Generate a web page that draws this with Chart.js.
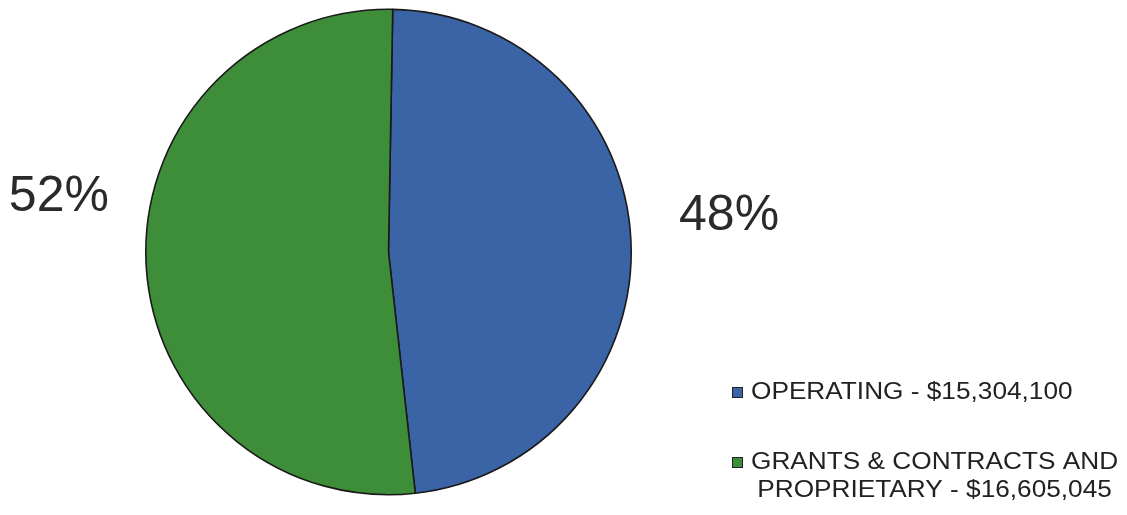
<!DOCTYPE html>
<html>
<head>
<meta charset="utf-8">
<script src="https://cdn.jsdelivr.net/npm/chart.js@4"></script>
<style>
    html, body { margin: 0; padding: 0; background: #ffffff; }
    #wrap { width: 1127px; height: 515px; position: relative; }
</style>
</head>
<body>
<div id="wrap"><canvas id="fundChart"></canvas></div>
<script>
const categories = ['OPERATING', 'GRANTS & CONTRACTS AND PROPRIETARY'];
const legendLines = [
    ['OPERATING - $15,304,100'],
    ['GRANTS & CONTRACTS AND', 'PROPRIETARY - $16,605,045']
];
const amounts = [15304100, 16605045];
const percentLabels = ['48%', '52%'];
const sliceColors = ['#3b64a6', '#3d8d39'];

// percent labels placed outside the pie, left or right of each slice
const percentPlugin = {
    id: 'percentLabels',
    afterDatasetsDraw(chart) {
        const ctx = chart.ctx;
        const arcs = chart.getDatasetMeta(0).data;
        const lift = [-36, -55];
        ctx.save();
        ctx.font = '50px "Liberation Sans", Arial, sans-serif';
        ctx.fillStyle = '#2a2a2a';
        ctx.textBaseline = 'middle';
        arcs.forEach(function (arc, i) {
            const mid = (arc.startAngle + arc.endAngle) / 2;
            const side = Math.cos(mid) >= 0 ? 1 : -1;
            ctx.textAlign = side > 0 ? 'left' : 'right';
            const x = arc.x + side * arc.outerRadius * (side > 0 ? 1.197 : 1.152);
            ctx.fillText(percentLabels[i], x, arc.y + lift[i]);
        });
        ctx.restore();
    }
};

// legend in the bottom right, second entry wraps onto two centred lines
const legendPlugin = {
    id: 'sideLegend',
    afterDraw(chart) {
        const ctx = chart.ctx;
        const left = 732;
        const textX = 751;
        const stretch = 1.14;
        const rows = [392, 462];
        ctx.save();
        ctx.font = '23px "Liberation Sans", Arial, sans-serif';
        ctx.textBaseline = 'middle';
        ctx.textAlign = 'left';
        legendLines.forEach(function (lines, i) {
            ctx.fillStyle = sliceColors[i];
            ctx.fillRect(left, rows[i] - 5, 11, 11);
            ctx.strokeStyle = '#222';
            ctx.lineWidth = 1;
            ctx.strokeRect(left + 0.5, rows[i] - 4.5, 10, 10);
            ctx.fillStyle = '#222';
            const widths = lines.map(function (l) { return ctx.measureText(l).width * stretch; });
            const blockW = Math.max.apply(null, widths);
            lines.forEach(function (line, j) {
                ctx.save();
                ctx.translate(textX + (blockW - widths[j]) / 2, rows[i] + 1 + j * 28);
                ctx.scale(stretch, 1);
                ctx.fillText(line, 0, 0);
                ctx.restore();
            });
        });
        ctx.restore();
    }
};

new Chart(document.getElementById('fundChart').getContext('2d'), {
    type: 'pie',
    data: {
        labels: categories,
        datasets: [{
            data: amounts,
            backgroundColor: sliceColors,
            borderColor: '#1a1a1a',
            borderWidth: 1.6
        }]
    },
    options: {
        responsive: true,
        maintainAspectRatio: false,
        animation: false,
        rotation: 1,
        layout: { padding: { top: 8, bottom: 19, left: 145, right: 495 } },
        plugins: {
            legend: { display: false },
            tooltip: { enabled: false }
        }
    },
    plugins: [percentPlugin, legendPlugin]
});
</script>
</body>
</html>
